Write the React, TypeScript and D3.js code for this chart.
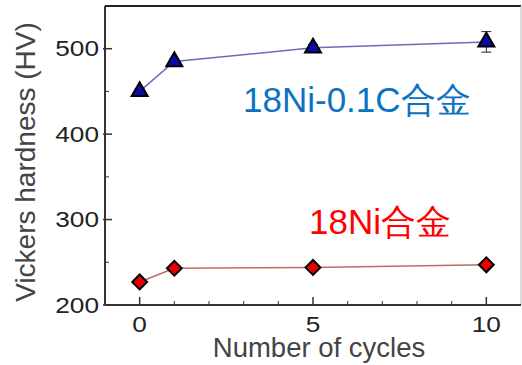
import React from 'react';
import * as d3 from 'd3';

const cycles = [0, 1, 5, 10];
const hardnessC = [450, 485, 501, 508];
const errC = [3, 3, 4, 12];
const hardnessNi = [227, 243, 244, 247];
const xTicks = [0, 5, 10];
const yTicks = [200, 300, 400, 500];
const labelC = '18Ni-0.1C合金';
const labelNi = '18Ni合金';

const W = 522;
const H = 365;
const margin = { top: 6, right: 1, bottom: 60, left: 105 };
const font = 'Arial, "Liberation Sans", sans-serif';

const App = () => {
  const x = d3.scaleLinear().domain([-1, 11]).range([margin.left, W - margin.right]);
  const y = d3.scaleLinear().domain([200, 550]).range([H - margin.bottom, margin.top]);

  const line = d3.line<number>()
    .x((_, i) => x(cycles[i]))
    .y(d => y(d));

  const minorX = d3.range(0, 11, 1).filter(v => !xTicks.includes(v));
  const minorY = [250, 350, 450];
  const tri = d3.symbol().type(d3.symbolTriangle).size(110)();
  const dia = d3.symbol().type(d3.symbolSquare).size(110)();
  const axisColor = '#333';

  return (
    <svg width={W} height={H} style={{ position: 'absolute', left: 0, top: 0, background: '#fff' }}>
      {/* frame */}
      <line x1={x(-1)} x2={x(11)} y1={y(550)} y2={y(550)} stroke="#222" strokeWidth={2} />
      <line x1={x(11)} x2={x(11)} y1={y(550)} y2={y(200)} stroke="#bbb" strokeWidth={1} />
      <line x1={x(-1)} x2={x(-1)} y1={y(550)} y2={y(200)} stroke={axisColor} strokeWidth={2} />
      <line x1={x(-1)} x2={x(11)} y1={y(200)} y2={y(200)} stroke={axisColor} strokeWidth={2} />

      {/* y ticks */}
      {yTicks.map(t => (
        <g key={t}>
          <line x1={x(-1) - 2} x2={x(-1) + 7} y1={y(t)} y2={y(t)} stroke={axisColor} strokeWidth={1.5} />
          <text transform={`translate(${x(-1) - 6},${y(t)}) scale(1.22,1)`} dy="0.36em" textAnchor="end" fontFamily={font} fontSize={21.5} fill="#222">{t}</text>
        </g>
      ))}
      {minorY.map(t => (
        <line key={t} x1={x(-1)} x2={x(-1) + 4} y1={y(t)} y2={y(t)} stroke={axisColor} strokeWidth={1} />
      ))}

      {/* x ticks */}
      {xTicks.map(t => (
        <g key={t}>
          <line x1={x(t)} x2={x(t)} y1={y(200)} y2={y(200) - 8} stroke={axisColor} strokeWidth={1.5} />
          <text transform={`translate(${x(t)},${y(200) + 27}) scale(1.22,1)`} textAnchor="middle" fontFamily={font} fontSize={21.5} fill="#222">{t}</text>
        </g>
      ))}
      {minorX.map(t => (
        <line key={t} x1={x(t)} x2={x(t)} y1={y(200)} y2={y(200) - 4} stroke={axisColor} strokeWidth={1} />
      ))}

      {/* axis titles */}
      <text x={319} y={357} textAnchor="middle" fontFamily={font} fontSize={27.5} fill="#444">Number of cycles</text>
      <text transform={`translate(35, 162) rotate(-90)`} textAnchor="middle" fontFamily={font} fontSize={28} fill="#444">Vickers hardness (HV)</text>

      {/* 18Ni-0.1C series */}
      <path d={line(hardnessC) ?? ''} fill="none" stroke="#6b6bb8" strokeWidth={1.5} />
      {cycles.map((c, i) => (
        <g key={c}>
          <line x1={x(c)} x2={x(c)} y1={y(hardnessC[i] - errC[i])} y2={y(hardnessC[i] + errC[i])} stroke="#222" strokeWidth={1} />
          <line x1={x(c) - 5} x2={x(c) + 5} y1={y(hardnessC[i] + errC[i])} y2={y(hardnessC[i] + errC[i])} stroke="#222" strokeWidth={1} />
          <line x1={x(c) - 5} x2={x(c) + 5} y1={y(hardnessC[i] - errC[i])} y2={y(hardnessC[i] - errC[i])} stroke="#222" strokeWidth={1} />
          <path d={tri ?? ''} transform={`translate(${x(c)},${y(hardnessC[i])})`} fill="#0a0aa8" stroke="#000" strokeWidth={2} />
        </g>
      ))}

      {/* 18Ni series */}
      <path d={line(hardnessNi) ?? ''} fill="none" stroke="#c06a6a" strokeWidth={1.5} />
      {cycles.map((c, i) => (
        <path key={c} d={dia ?? ''} transform={`translate(${x(c)},${y(hardnessNi[i])}) rotate(45)`} fill="#e80000" stroke="#000" strokeWidth={2} />
      ))}

      {/* series labels */}
      <text x={243} y={112} fontFamily={font} fontSize={35} fill="#0b72c4">{labelC}</text>
      <text x={309} y={234} fontFamily={font} fontSize={35} fill="#ff0000">{labelNi}</text>
    </svg>
  );
};

export default App;
